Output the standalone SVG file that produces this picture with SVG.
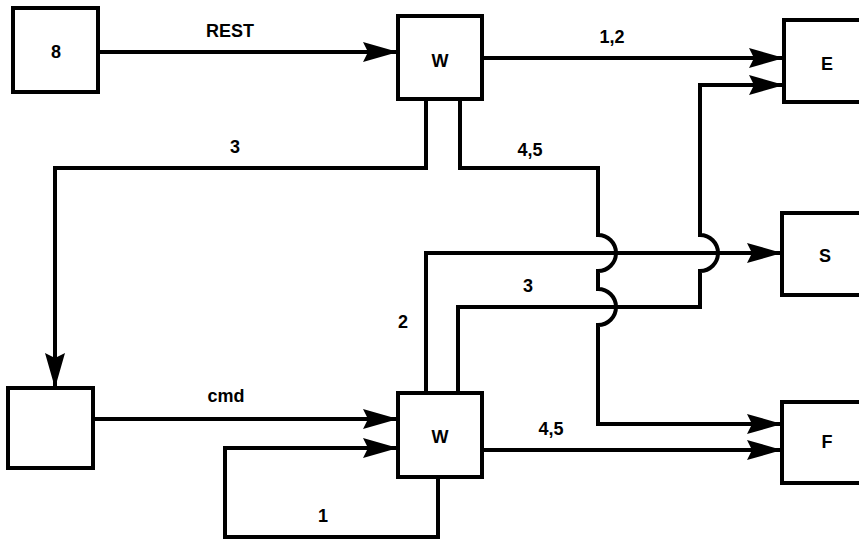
<svg xmlns="http://www.w3.org/2000/svg" width="859" height="541" viewBox="0 0 859 541">
<style>
.box{fill:#fff;stroke:#000;stroke-width:4}
.ln{fill:none;stroke:#000;stroke-width:4;stroke-linejoin:miter}
.arr{marker-end:url(#ah)}
text{font-family:"Liberation Sans",Arial,sans-serif;font-weight:bold;font-size:18px;fill:#000;text-anchor:middle}
</style>
<defs>
<marker id="ah" markerUnits="userSpaceOnUse" markerWidth="36" markerHeight="22" refX="35" refY="11" orient="auto">
<path d="M0,1 L35,11 L0,21 L5,11 z" fill="#000"/>
</marker>
</defs>
<rect width="859" height="541" fill="#fff"/>
<g id="connectors">
<path class="ln arr" d="M98,52 H398"/>
<path class="ln arr" d="M482,58 H784"/>
<path class="ln arr" d="M426,99 V168 H55 V388"/>
<path class="ln arr" d="M460,99 V168 H598 V235 A18,18 0 0 1 598,271 V289 A18,18 0 0 1 598,325 V424 H782"/>
<path class="ln arr" d="M426,393 V253 H782"/>
<path class="ln arr" d="M458,393 V307 H700 V271 A18,18 0 0 0 700,235 V85 H784"/>
<path class="ln arr" d="M93,419 H398"/>
<path class="ln arr" d="M438,477 V537 H225 V448 H398"/>
<path class="ln arr" d="M482,450 H782"/>
<text x="230" y="37">REST</text>
<text x="612" y="43">1,2</text>
<text x="235" y="153">3</text>
<text x="530" y="156">4,5</text>
<text x="403" y="328">2</text>
<text x="528" y="292">3</text>
<text x="226" y="402">cmd</text>
<text x="551" y="435">4,5</text>
<text x="323" y="522">1</text>
</g>
<g id="node-8"><rect class="box" x="13" y="8" width="85" height="84"/><text x="56" y="58">8</text></g>
<g id="node-w-top"><rect class="box" x="398" y="16" width="84" height="83"/><text x="440" y="67">W</text></g>
<g id="node-e"><rect class="box" x="784" y="20" width="100" height="82"/><text x="827" y="70">E</text></g>
<g id="node-s"><rect class="box" x="782" y="213" width="100" height="82"/><text x="825" y="262">S</text></g>
<g id="node-blank"><rect class="box" x="8" y="388" width="85" height="80"/></g>
<g id="node-w-bottom"><rect class="box" x="398" y="393" width="84" height="84"/><text x="440" y="443">W</text></g>
<g id="node-f"><rect class="box" x="782" y="402" width="100" height="81"/><text x="827" y="448">F</text></g>
</svg>
